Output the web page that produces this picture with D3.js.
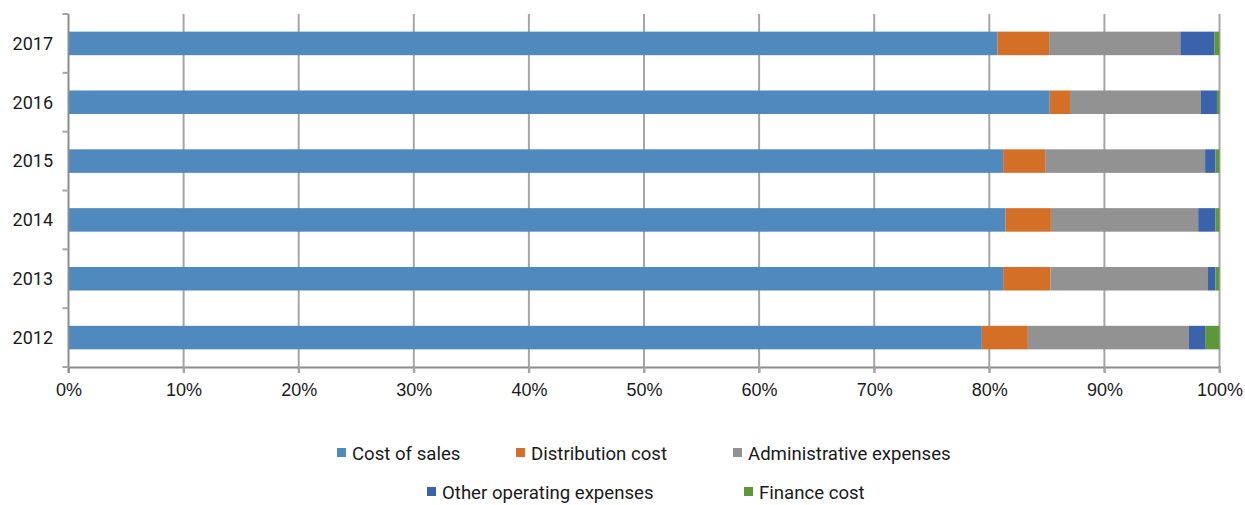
<!DOCTYPE html>
<html>
<head>
<meta charset="utf-8">
<script src="https://cdn.jsdelivr.net/npm/d3@7"></script>
<style>
  html, body { margin: 0; padding: 0; background: #fff; }
  svg { display: block; font-family: Roboto, "Liberation Sans", sans-serif; }
</style>
</head>
<body>
<svg id="chart" width="1245" height="505"></svg>
<script>
// ---- data ----
const years = ["2017", "2016", "2015", "2014", "2013", "2012"];
const seriesNames = ["Cost of sales", "Distribution cost", "Administrative expenses", "Other operating expenses", "Finance cost"];
const costOfSales        = [80.70, 85.25, 81.20, 81.40, 81.20, 79.35];
const distributionCost   = [4.50, 1.76, 3.65, 3.95, 4.10, 4.00];
const adminExpenses      = [11.40, 11.38, 13.90, 12.80, 13.70, 14.00];
const otherOperating     = [2.95, 1.39, 0.90, 1.50, 0.65, 1.40];
const financeCost        = [0.45, 0.22, 0.35, 0.35, 0.35, 1.25];
const xTickValues = [0, 0.1, 0.2, 0.3, 0.4, 0.5, 0.6, 0.7, 0.8, 0.9, 1.0];

const colors = ["#4F89BD", "#D46F28", "#929292", "#3B63AC", "#5F963A"];

// ---- build table ----
const seriesValues = [costOfSales, distributionCost, adminExpenses, otherOperating, financeCost];
const table = years.map((yr, i) => {
  const row = { year: yr };
  const total = seriesValues.reduce((s, arr) => s + arr[i], 0);
  seriesNames.forEach((n, k) => { row[n] = seriesValues[k][i] / total; });
  return row;
});
const stacked = d3.stack().keys(seriesNames)(table);

const svg = d3.select("#chart");
const mLeft = 68.5, mRight = 1219.5, mTop = 14, mBottom = 367;

const x = d3.scaleLinear().domain([0, 1]).range([mLeft, mRight]);
const y = d3.scaleBand().domain(years).range([mTop, mBottom]).paddingInner(0.6).paddingOuter(0.3);
const color = d3.scaleOrdinal().domain(seriesNames).range(colors);

// gridlines
svg.append("g").selectAll("line")
  .data(xTickValues.filter(v => v > 0))
  .join("line")
  .attr("x1", d => x(d)).attr("x2", d => x(d))
  .attr("y1", mTop).attr("y2", mBottom + 6)
  .attr("stroke", "#a6a6a6").attr("stroke-width", 2);

// bars
svg.append("g").selectAll("g")
  .data(stacked)
  .join("g")
  .attr("fill", d => color(d.key))
  .selectAll("rect")
  .data(d => d)
  .join("rect")
  .attr("x", d => x(d[0]))
  .attr("width", d => x(d[1]) - x(d[0]))
  .attr("y", d => y(d.data.year))
  .attr("height", y.bandwidth());

// bottom axis
const xAxis = d3.axisBottom(x).tickValues(xTickValues).tickFormat(d3.format(".0%")).tickSize(6).tickPadding(10);
const gx = svg.append("g").attr("transform", `translate(0,${mBottom})`).call(xAxis);
gx.select(".domain").attr("stroke", "#8c8c8c").attr("stroke-width", 2);
gx.selectAll(".tick line").attr("stroke", "#a6a6a6").attr("stroke-width", 2);
gx.selectAll("text").attr("font-size", 18).attr("fill", "#1a1a1a").attr("font-family", null);

// left axis
const step = y.step();
const boundaries = d3.range(years.length + 1).map(k => mTop + k * step);
svg.append("line")
  .attr("x1", x(0)).attr("x2", x(0)).attr("y1", mTop).attr("y2", mBottom + 6)
  .attr("stroke", "#8c8c8c").attr("stroke-width", 2);
svg.append("g").selectAll("line").data(boundaries).join("line")
  .attr("x1", x(0) - 6).attr("x2", x(0))
  .attr("y1", d => d).attr("y2", d => d)
  .attr("stroke", "#a6a6a6").attr("stroke-width", 2);
svg.append("g").selectAll("text").data(years).join("text")
  .attr("x", 53)
  .attr("y", d => y(d) + y.bandwidth() / 2)
  .attr("dy", "0.35em")
  .attr("text-anchor", "end")
  .attr("font-size", 18).attr("fill", "#1a1a1a")
  .text(d => d);

// legend
const legendPos = [[337, 453], [516, 453], [733, 453], [427, 492], [744, 492]];
const lg = svg.append("g").selectAll("g").data(seriesNames).join("g")
  .attr("transform", (d, i) => `translate(${legendPos[i][0]},${legendPos[i][1]})`);
lg.append("rect").attr("x", 0).attr("y", -5).attr("width", 9).attr("height", 9).attr("fill", d => color(d));
lg.append("text").attr("x", 15).attr("y", 0).attr("dy", "0.35em")
  .attr("font-size", 18.6).attr("fill", "#1a1a1a").text(d => d);
</script>
</body>
</html>
